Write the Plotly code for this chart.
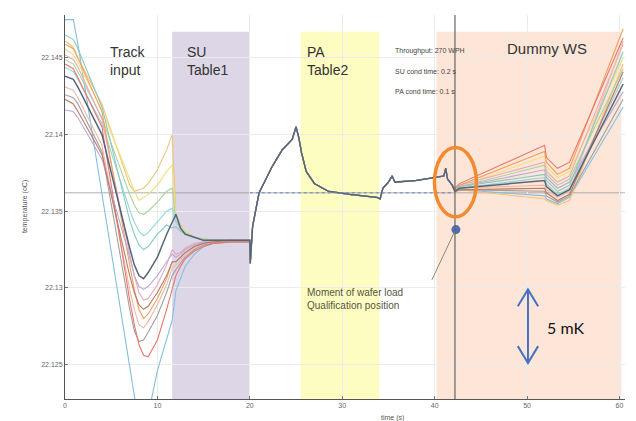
import plotly.graph_objects as go

# ---------------- data (temperature in degC vs time in s) ----------------
left_t = [0, 0.9, 1.4, 4.0, 7.0, 7.5, 8.0, 8.5, 9.0, 10.0, 11.0, 11.6,
          12.0, 12.5, 13.0, 14.0, 15.0, 16.0, 18.0, 20.0]

mid_t = [20.05, 20.3, 21.0, 22.4, 23.5, 24.6, 25.0, 25.3, 25.6, 26.1, 27.0, 28.5,
         30.8, 33.8, 34.1, 34.4, 35.0, 35.4, 35.7, 38.0, 40.0, 41.0, 41.2, 41.4, 41.9]
mid_temp = [22.1316, 22.1340, 22.1362, 22.1379, 22.1390, 22.1397, 22.1405, 22.1398,
            22.1388, 22.1376, 22.1368, 22.1363, 22.1361, 22.1359, 22.1358, 22.1365,
            22.1369, 22.1373, 22.1369, 22.1370, 22.1372, 22.1373, 22.1378, 22.1371, 22.1367]

right_t = [42.2, 42.7, 51.9, 52.1, 53.3, 54.6, 60.4]

names = ["T1", "T2", "T3", "T4", "T5", "T7", "T8", "T9", "T10", "T11", "T12", "T13", "T14", "T6"]
colors = {
    "T1": "#86bde0", "T2": "#f2c27a", "T3": "#efe07a", "T4": "#a9d49a", "T5": "#92d6dc",
    "T6": "#56657a", "T7": "#eaa6bd", "T8": "#f0a060", "T9": "#f3b7a5", "T10": "#a0a0a0",
    "T11": "#e8766c", "T12": "#b9a8d8", "T13": "#b77a66", "T14": "#86cbbf",
}
widths = {"T6": 1.5}

left_temp = {
    "T1": [22.1475, 22.1475, 22.1459, 22.1361, 22.1248, 22.1231, 22.1211, 22.1207, 22.1217, 22.1246, 22.1266, 22.1279,
           22.1298, 22.1306, 22.1314, 22.1322, 22.1327, 22.1329, 22.1330, 22.1330],
    "T2": [22.1461, 22.1457, 22.1450, 22.1420, 22.1367, 22.1363, 22.1364, 22.1365, 22.1368, 22.1377, 22.1390, 22.1400,
           22.1348, 22.1341, 22.1337, 22.1333, 22.1332, 22.1331, 22.1331, 22.1331],
    "T3": [22.1456, 22.1452, 22.1447, 22.1416, 22.1371, 22.1363, 22.1357, 22.1359, 22.1361, 22.1367, 22.1376, 22.1380,
           22.1346, 22.1340, 22.1337, 22.1333, 22.1332, 22.1331, 22.1331, 22.1331],
    "T4": [22.1449, 22.1446, 22.1441, 22.1411, 22.1361, 22.1354, 22.1349, 22.1348, 22.1350, 22.1356, 22.1363, 22.1365,
           22.1344, 22.1339, 22.1336, 22.1333, 22.1332, 22.1331, 22.1331, 22.1331],
    "T5": [22.1444, 22.1441, 22.1436, 22.1407, 22.1351, 22.1343, 22.1337, 22.1334, 22.1336, 22.1343, 22.1350, 22.1352,
           22.1343, 22.1339, 22.1335, 22.1333, 22.1331, 22.1331, 22.1331, 22.1331],
    "T6": [22.1438, 22.1436, 22.1431, 22.1400, 22.1326, 22.1315, 22.1308, 22.1306, 22.1310, 22.1320, 22.1335, 22.1343,
           22.1348, 22.1339, 22.1335, 22.1333, 22.1331, 22.1331, 22.1331, 22.1331],
    "T7": [22.1452, 22.1449, 22.1444, 22.1410, 22.1322, 22.1308, 22.1297, 22.1292, 22.1293, 22.1302, 22.1315, 22.1325,
           22.1322, 22.1323, 22.1326, 22.1329, 22.1330, 22.1331, 22.1331, 22.1331],
    "T8": [22.1459, 22.1456, 22.1450, 22.1415, 22.1315, 22.1299, 22.1286, 22.1280, 22.1283, 22.1293, 22.1306, 22.1317,
           22.1317, 22.1320, 22.1323, 22.1327, 22.1329, 22.1330, 22.1331, 22.1331],
    "T9": [22.1431, 22.1429, 22.1424, 22.1393, 22.1299, 22.1286, 22.1276, 22.1274, 22.1278, 22.1289, 22.1302, 22.1313,
           22.1315, 22.1318, 22.1322, 22.1326, 22.1329, 22.1330, 22.1330, 22.1331],
    "T10": [22.1426, 22.1424, 22.1420, 22.1389, 22.1286, 22.1272, 22.1265, 22.1266, 22.1271, 22.1282, 22.1297, 22.1308,
            22.1312, 22.1316, 22.1320, 22.1325, 22.1328, 22.1329, 22.1330, 22.1330],
    "T11": [22.1446, 22.1443, 22.1437, 22.1405, 22.1292, 22.1276, 22.1263, 22.1256, 22.1255, 22.1266, 22.1286, 22.1300,
            22.1308, 22.1314, 22.1319, 22.1324, 22.1327, 22.1329, 22.1330, 22.1330],
    "T12": [22.1416, 22.1415, 22.1411, 22.1384, 22.1320, 22.1308, 22.1301, 22.1299, 22.1301, 22.1308, 22.1317, 22.1322,
            22.1320, 22.1322, 22.1325, 22.1328, 22.1330, 22.1331, 22.1331, 22.1331],
    "T13": [22.1423, 22.1420, 22.1415, 22.1387, 22.1308, 22.1297, 22.1289, 22.1286, 22.1288, 22.1297, 22.1308, 22.1317,
            22.1317, 22.1320, 22.1323, 22.1327, 22.1329, 22.1330, 22.1331, 22.1331],
    "T14": [22.1465, 22.1462, 22.1456, 22.1418, 22.1344, 22.1335, 22.1328, 22.1325, 22.1327, 22.1335, 22.1341, 22.1339,
            22.1340, 22.1337, 22.1335, 22.1333, 22.1331, 22.1331, 22.1331, 22.1331],
}

right_temp = {
    "T11": [22.1365, 22.1368, 22.1393, 22.1385, 22.1378, 22.1382, 22.1463],
    "T8": [22.1364, 22.1367, 22.1389, 22.1382, 22.1374, 22.1378, 22.1469],
    "T3": [22.1364, 22.1366, 22.1386, 22.1379, 22.1372, 22.1376, 22.1450],
    "T7": [22.1363, 22.1367, 22.1382, 22.1376, 22.1369, 22.1373, 22.1459],
    "T4": [22.1364, 22.1366, 22.1380, 22.1374, 22.1367, 22.1371, 22.1443],
    "T12": [22.1363, 22.1366, 22.1377, 22.1372, 22.1365, 22.1369, 22.1428],
    "T14": [22.1364, 22.1366, 22.1374, 22.1370, 22.1363, 22.1367, 22.1454],
    "T5": [22.1363, 22.1365, 22.1372, 22.1368, 22.1361, 22.1365, 22.1437],
    "T6": [22.1363, 22.1365, 22.1370, 22.1366, 22.1360, 22.1364, 22.1433],
    "T9": [22.1363, 22.1365, 22.1367, 22.1364, 22.1359, 22.1363, 22.1461],
    "T13": [22.1363, 22.1364, 22.1365, 22.1362, 22.1357, 22.1361, 22.1441],
    "T10": [22.1363, 22.1364, 22.1363, 22.1360, 22.1356, 22.1360, 22.1423],
    "T1": [22.1363, 22.1364, 22.1360, 22.1358, 22.1355, 22.1359, 22.1418],
    "T2": [22.1362, 22.1364, 22.1358, 22.1357, 22.1354, 22.1357, 22.1446],
}

# regions (time in s)
regions = [(11.6, 20.0, "#dcd6e6"), (25.5, 34.0, "#fdfdc2"), (40.2, 60.2, "#fde6d8")]
ref_temp = 22.1362
load_time = 42.2
dot_t = [42.3]
dot_temp = [22.1338]
x_ticks = [0, 10, 20, 30, 40, 50, 60]
y_ticks = [22.125, 22.13, 22.135, 22.14, 22.145]
y_ticktext = ["22.125", "22.13", "22.135", "22.14", "22.145"]
Y0, Y1 = 22.12275, 22.1478
X0, X1 = 0, 60.6
FONT = "Liberation Sans, Arial, sans-serif"

fig = go.Figure()

for n in names:
    fig.add_trace(go.Scatter(
        x=left_t + mid_t + right_t,
        y=left_temp[n] + mid_temp + right_temp[n],
        mode="lines", line=dict(color=colors[n], width=widths.get(n, 1.1)),
        showlegend=False, hoverinfo="skip"))

fig.add_trace(go.Scatter(x=dot_t, y=dot_temp, mode="markers",
                         marker=dict(size=9, color="#4d6fb5"), showlegend=False))

shapes = []
for a, b, c in regions:
    shapes.append(dict(type="rect", xref="x", yref="y", x0=a, x1=b, y0=Y0, y1=22.1467,
                       fillcolor=c, line=dict(width=0), layer="below"))
shapes += [
    dict(type="line", xref="x", yref="y", x0=0, x1=X1, y0=ref_temp, y1=ref_temp,
         line=dict(color="#9a9a9a", width=0.8), layer="below"),
    dict(type="line", xref="x", yref="y", x0=20, x1=42, y0=ref_temp, y1=ref_temp,
         line=dict(color="#6a86c2", width=1, dash="dot")),
    dict(type="line", xref="x", yref="paper", x0=load_time, x1=load_time, y0=0, y1=1,
         line=dict(color="#666666", width=1.2)),
    dict(type="circle", xref="x", yref="y", x0=39.98, x1=44.52, y0=22.13464, y1=22.13915,
         line=dict(color="#f28a30", width=3.5)),
    dict(type="line", xref="x", yref="y", x0=42.15, x1=39.7, y0=22.13366, y1=22.13052,
         line=dict(color="#8a8a70", width=1)),
    # 5 mK double arrow
    dict(type="line", xref="x", yref="y", x0=50.1, x1=50.1, y0=22.1251, y1=22.1299,
         line=dict(color="#4472c4", width=2)),
    dict(type="path", xref="x", yref="y",
         path="M 49.0,22.1288 L 50.1,22.1299 L 51.2,22.1288",
         line=dict(color="#4472c4", width=2)),
    dict(type="path", xref="x", yref="y",
         path="M 49.0,22.1262 L 50.1,22.1251 L 51.2,22.1262",
         line=dict(color="#4472c4", width=2)),
]

ann = [
    dict(x=4.65, y=22.1448, text="Track<br>input", font=dict(size=14, color="#333")),
    dict(x=12.99, y=22.1448, text="SU<br>Table1", font=dict(size=14, color="#333")),
    dict(x=25.97, y=22.1448, text="PA<br>Table2", font=dict(size=14, color="#333")),
    dict(x=47.6, y=22.1456, text="Dummy WS", font=dict(size=15, color="#333")),
    dict(x=35.5, y=22.14543, text="Throughput: 270 WPH", font=dict(size=7, color="#444")),
    dict(x=35.5, y=22.14412, text="SU cond time: 0.2 s", font=dict(size=7, color="#444")),
    dict(x=35.5, y=22.14281, text="PA cond time: 0.1 s", font=dict(size=7, color="#444")),
    dict(x=26.0, y=22.1293, text="Moment of wafer load<br>Qualification position",
         font=dict(size=10, color="#55553f")),
    dict(x=51.95, y=22.12744, text="5 mK", font=dict(size=16, color="#111", family="Lato, sans-serif")),
]
annotations = []
for a in ann:
    a.update(xref="x", yref="y", xanchor="left", yanchor="middle", showarrow=False, align="left")
    annotations.append(a)
annotations.append(dict(xref="paper", yref="paper", x=0.585, y=-0.05, text="time (s)",
                        showarrow=False, font=dict(size=7, color="#555"), yanchor="middle"))
annotations.append(dict(xref="paper", yref="paper", x=-0.082, y=0.5, text="temperature (oC)",
                        textangle=-90, showarrow=False, font=dict(size=7, color="#555")))

axis_common = dict(showgrid=True, gridcolor="#ececec", gridwidth=1, zeroline=False,
                   showline=True, linecolor="#555", linewidth=1, ticks="inside", ticklen=3,
                   tickcolor="#777", tickfont=dict(size=7, color="#666"))
# page body has an 8px margin: figure is sized/offset so the plot lands where the reference has it
fig.update_layout(
    width=628, height=413,
    margin=dict(l=57, r=11, t=7, b=22),
    paper_bgcolor="white", plot_bgcolor="white",
    font=dict(family=FONT),
    shapes=shapes, annotations=annotations,
    xaxis=dict(range=[X0, X1], tickvals=x_ticks, **axis_common),
    yaxis=dict(range=[Y0, Y1], tickvals=y_ticks, ticktext=y_ticktext, **axis_common),
)

fig.write_html("out.html")
